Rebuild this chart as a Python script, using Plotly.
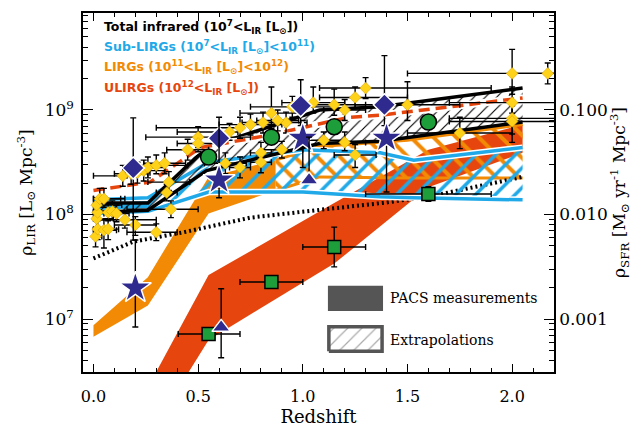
import numpy as np
import plotly.graph_objects as go

# ---------------- colours ----------------
C_BLUE = "#1FA9E8"
C_ORANGE = "#F28A05"
C_RED = "#E6460E"
C_NAVY = "#2E2A8E"
C_GREEN = "#1E9E3A"
C_YELLOW = "#FFD21A"
C_GREY = "#555555"

# ---------------- data : log10 rho_IR [Lsun Mpc^-3] ----------------
ulirg_z = [0.25, 0.55, 1.15, 1.60, 2.05]
ulirg_hi = [6.31, 7.42, 8.11, 8.62, 8.86]
ulirg_lo = [5.83, 6.80, 7.53, 8.26, 8.59]

lirg_meas_z = [0.00, 0.26, 0.55, 0.87]
lirg_meas_hi = [6.94, 7.40, 8.36, 8.52]
lirg_meas_lo = [6.83, 7.13, 8.01, 8.23]
lirg_ext_z = [0.87, 1.08, 1.50, 2.05]
lirg_ext_hi = [8.52, 8.65, 8.71, 8.86]
lirg_ext_lo = [8.23, 8.36, 8.35, 8.35]

sub_meas_z = [0.00, 0.26]
sub_meas_hi = [8.14, 8.16]
sub_meas_lo = [8.01, 8.03]
sub_ext_z = [0.26, 0.55, 1.00, 1.37, 1.53, 2.05]
sub_ext_hi = [8.16, 8.50, 8.62, 8.59, 8.52, 8.64]
sub_ext_lo = [8.03, 8.215, 8.215, 8.17, 8.16, 8.14]

tot_z = [0.00, 0.26, 0.54, 1.08, 1.37, 2.05]
tot_hi = [8.11, 8.11, 8.64, 9.00, 9.03, 9.21]
tot_lo = [8.02, 8.04, 8.42, 8.68, 8.70, 8.885]

dashed_z = [0.00, 0.27, 0.51, 0.84, 1.22, 1.37, 2.05]
dashed_v = [8.23, 8.31, 8.64, 8.76, 8.93, 8.95, 9.115]

dotted_z = [0.00, 0.19, 0.43, 0.75, 1.06, 1.38, 1.60, 2.05]
dotted_v = [7.58, 7.74, 7.83, 7.97, 8.04, 8.11, 8.17, 8.36]

# yellow literature points: z, log rho, z-minus, z-plus, dex-minus, dex-plus
yel_z = [0.01, 0.02, 0.015, 0.02, 0.015, 0.03, 0.05, 0.07, 0.09, 0.11, 0.05, 0.07, 0.15, 0.20,
         0.30, 0.37, 0.35, 0.36, 0.14, 0.18, 0.21, 0.24, 0.26, 0.30, 0.34, 0.45, 0.50, 0.50,
         0.65, 0.70, 0.75, 0.81, 0.85, 0.92, 1.05, 0.95, 1.10, 0.90, 0.80, 0.80, 0.70, 0.63,
         1.15, 1.20, 1.25, 1.30, 1.20, 1.25, 1.50, 1.75, 2.00, 2.00, 2.00, 2.00, 2.17, 0.88]
yel_v = [7.79, 7.86, 7.96, 8.02, 8.09, 8.15, 8.15, 8.02, 8.03, 8.01, 7.85, 7.86, 7.95, 7.90,
         7.83, 8.05, 8.21, 8.31, 8.37, 8.39, 8.40, 8.42, 8.45, 8.47, 8.49, 8.62, 8.74, 8.68,
         8.79, 8.83, 8.86, 8.88, 8.97, 8.88, 9.07, 9.03, 8.71, 8.62, 8.59, 8.50, 8.45, 8.49,
         9.05, 9.00, 9.12, 9.21, 8.69, 8.57, 9.05, 8.78, 9.35, 9.07, 8.92, 8.89, 9.35, 8.90]
yel_zm = [0.01, 0.02, 0.015, 0.02, 0.015, 0.03, 0.05, 0.07, 0.09, 0.06, 0.05, 0.04, 0.14, 0.10,
          0.14, 0.21, 0.05, 0.10, 0.14, 0.08, 0.06, 0.10, 0.08, 0.10, 0.10, 0.10, 0.25, 0.10,
          0.25, 0.40, 0.15, 0.10, 0.15, 0.10, 0.15, 0.20, 0.10, 0.10, 0.05, 0.05, 0.05, 0.10,
          0.15, 0.10, 0.17, 0.22, 0.10, 0.10, 0.25, 0.25, 0.50, 0.30, 0.30, 0.30, 0.17, 0.10]
yel_zp = [0.03, 0.05, 0.08, 0.10, 0.12, 0.10, 0.10, 0.08, 0.10, 0.06, 0.06, 0.05, 0.15, 0.10,
          0.10, 0.13, 0.05, 0.10, 0.02, 0.08, 0.06, 0.10, 0.08, 0.15, 0.10, 0.10, 0.25, 0.10,
          0.04, 0.01, 0.15, 0.10, 0.15, 0.10, 0.15, 0.20, 0.10, 0.10, 0.05, 0.05, 0.05, 0.10,
          0.15, 0.10, 0.25, 0.60, 0.10, 0.10, 0.25, 0.25, 0.40, 0.40, 0.40, 0.40, 0.30, 0.10]
yel_dm = [0.10, 0.10, 0.10, 0.08, 0.08, 0.08, 0.08, 0.08, 0.08, 0.08, 0.17, 0.10, 0.08, 0.10,
          0.08, 0.08, 0.08, 0.08, 0.10, 0.10, 0.10, 0.10, 0.10, 0.08, 0.10, 0.10, 0.10, 0.08,
          0.08, 0.10, 0.10, 0.10, 0.15, 0.10, 0.10, 0.10, 0.08, 0.08, 0.10, 0.10, 0.10, 0.10,
          0.10, 0.10, 0.10, 0.10, 0.08, 0.12, 0.15, 0.15, 0.20, 0.10, 0.15, 0.20, 0.10, 0.10]
yel_dp = [0.08, 0.10, 0.08, 0.08, 0.07, 0.10, 0.10, 0.08, 0.10, 0.08, 0.10, 0.10, 0.08, 0.08,
          0.08, 0.08, 0.08, 0.10, 0.10, 0.10, 0.10, 0.10, 0.10, 0.10, 0.10, 0.10, 0.10, 0.08,
          0.08, 0.10, 0.10, 0.10, 0.25, 0.10, 0.15, 0.10, 0.08, 0.08, 0.10, 0.10, 0.10, 0.10,
          0.15, 0.10, 0.10, 0.10, 0.10, 0.10, 0.22, 0.15, 0.23, 0.15, 0.15, 0.15, 0.10, 0.10]

# navy symbols
dia_z = [0.19, 0.60, 0.99, 1.39]
dia_v = [8.445, 8.73, 9.04, 9.05]
dia_dm = [0.69, 0.0, 0.19, 0.20]
dia_dp = [0.48, 0.0, 0.25, 0.47]

star_z = [0.20, 0.60, 1.00, 1.40]
star_v = [7.297, 8.33, 8.73, 8.73]
star_dm = [0.374, 0.17, 0.28, 0.515]
star_dp = [0.459, 0.60, 0.17, 0.12]

tri_z = [0.61, 1.03]
tri_v = [6.92, 8.33]
tri_dm = [0.29, 0.03]
tri_dp = [0.37, 0.41]

# green symbols
circ_z = [0.55, 0.85, 1.15, 1.60]
circ_v = [8.55, 8.74, 8.84, 8.885]

sq_z = [0.55, 0.85, 1.15, 1.60]
sq_v = [6.856, 7.354, 7.689, 8.196]
sq_zm = [0.145, 0.15, 0.15, 0.30]
sq_zp = [0.15, 0.15, 0.15, 0.30]
sq_dm = [0.06, 0.05, 0.19, 0.07]
sq_dp = [0.06, 0.05, 0.19, 0.07]

# axis ticks
lir_ticks = [1e7, 1e8, 1e9]
lir_ticktext = ["10<sup>7</sup>", "10<sup>8</sup>", "10<sup>9</sup>"]
sfr_ticks = [0.001, 0.01, 0.1]
sfr_ticktext = ["0.001", "0.010", "0.100"]

SFR_PER_LIR = 1e-10
LOG_RANGE = [6.493, 9.928]
X_RANGE = [-0.05, 2.2]


def lin(v):
    return [10 ** a for a in v]


def errs(v, dm, dp):
    plus = [10 ** (a + p) - 10 ** a for a, p in zip(v, dp)]
    minus = [10 ** a - 10 ** (a - m) for a, m in zip(v, dm)]
    return plus, minus


def poly(z, hi, lo):
    z = list(z)
    xs = z + z[::-1] + [z[0]]
    ys = lin(hi) + lin(lo)[::-1] + [10 ** hi[0]]
    return xs, ys


fig = go.Figure()


def add_solid(z, hi, lo, color):
    xs, ys = poly(z, hi, lo)
    fig.add_trace(go.Scatter(x=xs, y=ys, mode="lines", fill="toself", fillcolor=color,
                             line=dict(width=0, color=color), hoverinfo="skip", showlegend=False))


def add_hatch(z, hi, lo, color, shape, size, solidity):
    xs, ys = poly(z, hi, lo)
    fig.add_trace(go.Scatter(x=xs, y=ys, mode="lines", fill="toself", fillcolor="rgba(0,0,0,0)",
                             fillpattern=dict(shape=shape, fgcolor=color, bgcolor="rgba(0,0,0,0)",
                                              size=size, solidity=solidity, fillmode="replace"),
                             line=dict(width=0), hoverinfo="skip", showlegend=False))


def add_line(z, v, color, width, dash="solid", halo=0):
    if halo:
        fig.add_trace(go.Scatter(x=z, y=lin(v), mode="lines", line=dict(color="white", width=width + halo),
                                 hoverinfo="skip", showlegend=False))
    fig.add_trace(go.Scatter(x=z, y=lin(v), mode="lines", line=dict(color=color, width=width, dash=dash),
                             hoverinfo="skip", showlegend=False))


# ULIRGs
add_solid(ulirg_z, ulirg_hi, ulirg_lo, C_RED)
# LIRGs
add_solid(lirg_meas_z, lirg_meas_hi, lirg_meas_lo, C_ORANGE)
add_hatch(lirg_ext_z, lirg_ext_hi, lirg_ext_lo, C_ORANGE, "\\", 16, 0.25)
add_line(lirg_ext_z, lirg_ext_hi, C_ORANGE, 3)
add_line(lirg_ext_z, lirg_ext_lo, C_ORANGE, 3)
# dotted
add_line(dotted_z, dotted_v, "black", 4, dash="2px,3px")
# sub-LIRGs
add_solid(sub_meas_z, sub_meas_hi, sub_meas_lo, C_BLUE)
add_hatch(sub_ext_z, sub_ext_hi, sub_ext_lo, C_BLUE, "/", 14, 0.25)
add_line(sub_meas_z + sub_ext_z[1:], sub_meas_hi + sub_ext_hi[1:], C_BLUE, 3.5, halo=3)
add_line(sub_meas_z + sub_ext_z[1:], sub_meas_lo + sub_ext_lo[1:], C_BLUE, 3.5, halo=3)
# total
add_hatch(tot_z, tot_hi, tot_lo, "black", "/", 8, 0.14)
add_line(tot_z, tot_hi, "black", 3.5)
add_line(tot_z, tot_lo, "black", 3.5)
# red dashed
add_line(dashed_z, dashed_v, C_RED, 3.5, dash="11px,6px", halo=4)

EB = dict(color="black", thickness=1.4, width=3)

yp, ym = errs(yel_v, yel_dm, yel_dp)
fig.add_trace(go.Scatter(
    x=yel_z, y=lin(yel_v), mode="markers",
    marker=dict(symbol="diamond", size=9, color=C_YELLOW, line=dict(width=0.6, color="#D9A400")),
    error_x=dict(type="data", symmetric=False, array=yel_zp, arrayminus=yel_zm, **EB),
    error_y=dict(type="data", symmetric=False, array=yp, arrayminus=ym, **EB),
    showlegend=False, hoverinfo="skip"))

sp, sm = errs(sq_v, sq_dm, sq_dp)
fig.add_trace(go.Scatter(
    x=sq_z, y=lin(sq_v), mode="markers",
    marker=dict(symbol="square", size=13, color=C_GREEN, line=dict(width=1.5, color="black")),
    error_x=dict(type="data", symmetric=False, array=sq_zp, arrayminus=sq_zm, **EB),
    error_y=dict(type="data", symmetric=False, array=sp, arrayminus=sm, **EB),
    showlegend=False, hoverinfo="skip"))

fig.add_trace(go.Scatter(
    x=circ_z, y=lin(circ_v), mode="markers",
    marker=dict(symbol="circle", size=16, color=C_GREEN, line=dict(width=1.5, color="black")),
    showlegend=False, hoverinfo="skip"))

for zz, vv, dm, dp, sym, size in [(dia_z, dia_v, dia_dm, dia_dp, "diamond", 17),
                                  (star_z, star_v, star_dm, star_dp, "star", 24),
                                  (tri_z, tri_v, tri_dm, tri_dp, "triangle-up", 16)]:
    p, m = errs(vv, dm, dp)
    fig.add_trace(go.Scatter(
        x=zz, y=lin(vv), mode="markers",
        marker=dict(symbol=sym, size=size, color=C_NAVY, line=dict(width=1.5, color="white")),
        error_y=dict(type="data", symmetric=False, array=p, arrayminus=m, **EB),
        showlegend=False, hoverinfo="skip"))

# invisible trace carrying the SFR axis
fig.add_trace(go.Scatter(x=tot_z, y=[10 ** v * SFR_PER_LIR for v in tot_hi], yaxis="y2",
                         mode="markers", marker=dict(opacity=0), showlegend=False, hoverinfo="skip"))

# legend boxes (overlay axes 0..1 spanning the plot area)
fig.add_trace(go.Scatter(x=[0.520, 0.637, 0.637, 0.520, 0.520], y=[0.170, 0.170, 0.240, 0.240, 0.170],
                         xaxis="x3", yaxis="y3", mode="lines", fill="toself", fillcolor=C_GREY,
                         line=dict(width=0), showlegend=False, hoverinfo="skip"))
fig.add_trace(go.Scatter(x=[0.522, 0.635, 0.635, 0.522, 0.522], y=[0.058, 0.058, 0.126, 0.126, 0.058],
                         xaxis="x3", yaxis="y3", mode="lines", fill="toself", fillcolor="white",
                         fillpattern=dict(shape="/", fgcolor=C_GREY, bgcolor="white", size=10, solidity=0.12),
                         line=dict(width=3.5, color=C_GREY), showlegend=False, hoverinfo="skip"))

SERIF = "DejaVu Serif"
LEG = "DejaVu Sans"


def minor_vals(lo, hi):
    out = []
    for n in range(lo, hi):
        for k in range(2, 10):
            out.append(k * 10.0 ** n)
    return out


legend_lines = [
    ("Total infrared (10<sup>7</sup>&lt;L<sub>IR</sub> [L<sub>⊙</sub>])", "black", 0.961),
    ("Sub-LIRGs (10<sup>7</sup>&lt;L<sub>IR</sub> [L<sub>⊙</sub>]&lt;10<sup>11</sup>)", C_BLUE, 0.905),
    ("LIRGs (10<sup>11</sup>&lt;L<sub>IR</sub> [L<sub>⊙</sub>]&lt;10<sup>12</sup>)", C_ORANGE, 0.850),
    ("ULIRGs (10<sup>12</sup>&lt;L<sub>IR</sub> [L<sub>⊙</sub>])", C_RED, 0.791),
]
annotations = []
for txt, col, yy in legend_lines:
    annotations.append(dict(xref="paper", yref="paper", x=0.040, y=yy, xanchor="left", yanchor="middle",
                            text="<b>" + txt + "</b>", showarrow=False,
                            font=dict(family=LEG, size=12.5, color=col)))
annotations.append(dict(xref="paper", yref="paper", x=0.648, y=0.206, xanchor="left", yanchor="middle",
                        text="PACS measurements", showarrow=False, font=dict(family=SERIF, size=14, color="black")))
annotations.append(dict(xref="paper", yref="paper", x=0.648, y=0.088, xanchor="left", yanchor="middle",
                        text="Extrapolations", showarrow=False, font=dict(family=SERIF, size=14, color="black")))

fig.update_layout(
    width=632, height=427,
    margin=dict(l=83, r=78, t=13, b=55, autoexpand=False),
    paper_bgcolor="white", plot_bgcolor="white",
    showlegend=False,
    annotations=annotations,
    xaxis=dict(range=X_RANGE, tick0=0, dtick=0.5, tickformat=".1f", ticks="inside", ticklen=8,
               tickwidth=1.3, tickcolor="black", showline=True, linecolor="black", linewidth=1.5,
               mirror="ticks", showgrid=False, zeroline=False, automargin=False, ticklabelstandoff=9,
               minor=dict(dtick=0.1, tick0=0, ticks="inside", ticklen=4, tickcolor="black", tickwidth=1),
               tickfont=dict(family=SERIF, size=16, color="black"),
               title=dict(text="Redshift", font=dict(family=SERIF, size=18, color="black"), standoff=6)),
    yaxis=dict(type="log", range=LOG_RANGE, tickvals=lir_ticks, ticktext=lir_ticktext, ticks="inside",
               ticklen=10, tickwidth=1.3, tickcolor="black", showline=True, linecolor="black", linewidth=1.5,
               showgrid=False, zeroline=False, automargin=False, ticklabelstandoff=4,
               minor=dict(tickvals=minor_vals(6, 10), ticks="inside", ticklen=5, tickcolor="black", tickwidth=1),
               tickfont=dict(family=SERIF, size=17, color="black"),
               title=dict(text="ρ<sub>LIR</sub> [L<sub>⊙</sub> Mpc<sup>-3</sup>]",
                          font=dict(family=SERIF, size=17, color="black"), standoff=8)),
    yaxis2=dict(type="log", overlaying="y", side="right", anchor="x", automargin=False,
                range=[LOG_RANGE[0] + np.log10(SFR_PER_LIR), LOG_RANGE[1] + np.log10(SFR_PER_LIR)],
                tickvals=sfr_ticks, ticktext=sfr_ticktext,
                ticks="inside", ticklen=10, tickwidth=1.3, tickcolor="black",
                showline=True, linecolor="black", linewidth=1.5, showgrid=False, zeroline=False,
                minor=dict(tickvals=minor_vals(-4, 0), ticks="inside", ticklen=5, tickcolor="black", tickwidth=1),
                tickfont=dict(family=SERIF, size=17, color="black"),
                title=dict(text="ρ<sub>SFR</sub> [M<sub>⊙</sub> yr<sup>-1</sup> Mpc<sup>-3</sup>]",
                           font=dict(family=SERIF, size=17, color="black"), standoff=9)),
    xaxis3=dict(overlaying="x", anchor="y3", range=[0, 1], visible=False, fixedrange=True),
    yaxis3=dict(overlaying="y", anchor="x3", range=[0, 1], visible=False, fixedrange=True),
)

fig.write_html("out.html")
